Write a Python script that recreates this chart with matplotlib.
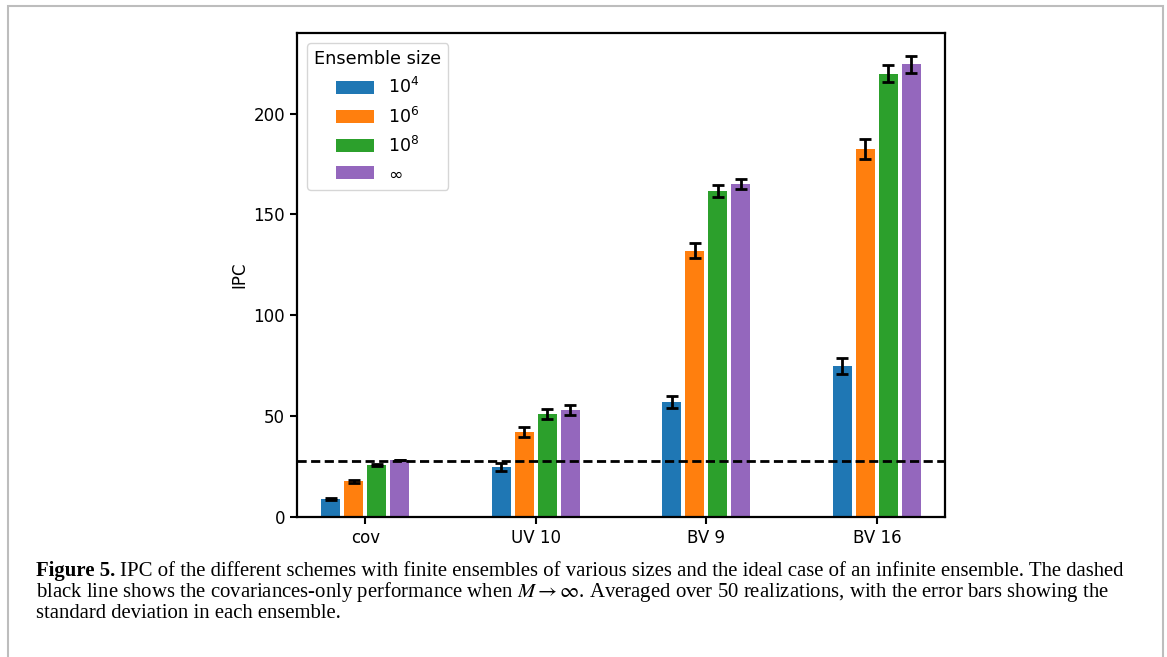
import numpy as np
import matplotlib.pyplot as plt
from matplotlib.patches import Rectangle

# IPC per scheme for each ensemble size (mean and std over 50 realizations)
schemes = ["cov", "UV 10", "BV 9", "BV 16"]
size_labels = [r"$10^4$", r"$10^6$", r"$10^8$", r"$\infty$"]
colors = ["#1f77b4", "#ff7f0e", "#2ca02c", "#9467bd"]

ipc_1e4 = [8.9, 24.8, 57.1, 74.9]
ipc_1e6 = [17.6, 42.2, 132.1, 182.6]
ipc_1e8 = [25.8, 51.1, 161.7, 219.8]
ipc_inf = [28.3, 53.1, 165.3, 224.4]

std_1e4 = [0.4, 2.0, 3.1, 4.0]
std_1e6 = [0.5, 2.4, 3.7, 5.0]
std_1e8 = [0.5, 2.4, 2.8, 4.3]
std_inf = [0.2, 2.4, 2.5, 4.0]

cov_only_inf = 28.0

means = [ipc_1e4, ipc_1e6, ipc_1e8, ipc_inf]
stds = [std_1e4, std_1e6, std_1e8, std_inf]

fig = plt.figure(figsize=(11.67, 6.57), dpi=100)
ax = fig.add_axes([0.2545, 0.2131, 0.5553, 0.7367])

x = np.arange(len(schemes))
step = 0.135
for i in range(4):
    ax.bar(x + (i - 1.5) * step, means[i], width=0.112, color=colors[i],
           label=size_labels[i], yerr=stds[i], capsize=4.5,
           error_kw=dict(elinewidth=2, capthick=2, ecolor="black"))

ax.axhline(cov_only_inf, color="black", linestyle="--", linewidth=2,
           dashes=(3.3, 1.6))

ax.set_xlim(-0.4, 3.4)
ax.set_ylim(0, 240)
ax.set_yticks([0, 50, 100, 150, 200])
ax.set_xticks(x)
ax.set_xticklabels(schemes)
ax.set_ylabel("IPC", fontsize=12)
ax.tick_params(labelsize=12, width=1.5, length=5)
for s in ax.spines.values():
    s.set_linewidth(1.6)

ax.legend(title="Ensemble size", loc="upper left", fontsize=12.5,
          title_fontsize=12.8, borderaxespad=0.6, labelspacing=0.52,
          handlelength=2.2, handleheight=0.8)

# caption below the figure
cap_font = dict(family="Liberation Serif", fontsize=14.95)
y1, dy = 1 - 576 / 657, 20.8 / 657
x0 = 36 / 1167
bold = fig.text(x0, y1, "Figure 5.", fontweight="bold", va="baseline", **cap_font)
fig.canvas.draw()
bb = bold.get_window_extent()
fig.text(bb.x1 / fig.bbox.width + 0.004, y1,
         "IPC of the different schemes with finite ensembles of various sizes "
         "and the ideal case of an infinite ensemble. The dashed",
         va="baseline", **cap_font)
fig.text(x0, y1 - dy,
         r"black line shows the covariances-only performance when $M \rightarrow \infty$. "
         "Averaged over 50 realizations, with the error bars showing the",
         va="baseline", math_fontfamily="stix", **cap_font)
fig.text(x0, y1 - 2 * dy, "standard deviation in each ensemble.",
         va="baseline", **cap_font)

# thin grey frame around the figure panel
fig.add_artist(Rectangle((8 / 1167, -0.05), 1155 / 1167, 1 - 6 / 657 + 0.05,
                         transform=fig.transFigure, fill=False,
                         edgecolor="#bdbdbd", linewidth=1.5))

fig.savefig("out.png", dpi=100)
